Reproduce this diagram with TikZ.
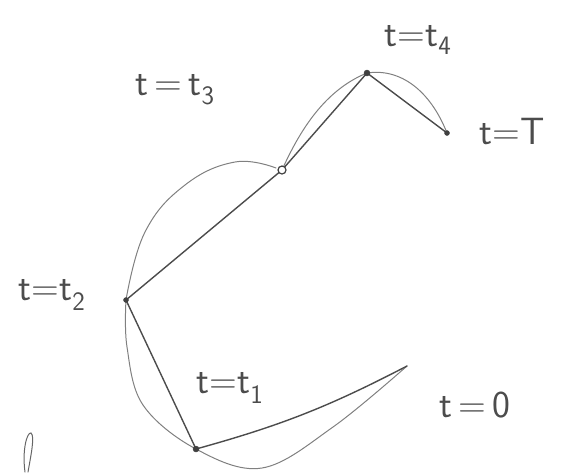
\documentclass[tikz,border=0pt]{standalone}
\begin{document}
\begin{tikzpicture}[x=1pt,y=-1pt,
  chord/.style={draw=black!70,line width=1.4pt,line cap=round},
  sweep/.style={draw=black!50,line width=1pt,line cap=round},
  lbl/.style={text=black!70,font=\sffamily\fontsize{38}{42}\selectfont,inner sep=0pt}]
\useasboundingbox (0,0) rectangle (577,472);
	% points of the path
	\coordinate (p0) at (407,366);
	\coordinate (p1) at (196,449);
	\coordinate (p2) at (126,300);
	\coordinate (p3) at (282,170);
	\coordinate (p4) at (367,73);
	\coordinate (pT) at (447,133);
	
	% smooth curve
	\draw[sweep] plot[smooth,tension=0.6] coordinates {(p0) (333,427) (262,468) (196,449) (143,405) (127,347) (p2)};
	\draw[sweep] plot[smooth,tension=0.7] coordinates {(p2) (145,232) (185,185) (235,162) (276,168)};
	\draw[sweep] (p3) .. controls (300,130) and (325,90) .. (p4);
	\draw[sweep] (p4) .. controls (400,68) and (430,90) .. (pT);
	
	% chords
	\draw[chord] (p0) to[bend left=6] (p1);
	\draw[chord] (p1) -- (p2) -- (p3) -- (p4) -- (pT);
	
	\draw[fill=black!75,draw=black!75] (p1) circle (3pt);
	\draw[fill=black!75,draw=black!75] (p2) circle (2.5pt);
	\draw[fill=white,draw=black!75,line width=1.2pt] (p3) circle (4pt);
	\draw[fill=black!75,draw=black!75] (p4) circle (3pt);
	\draw[fill=black!75,draw=black!75] (pT) circle (2.5pt);
	
	% stray stroke
	\draw[sweep,draw=black!60] (25,472) .. controls (22,450) and (27,432) .. (31,433) .. controls (35,436) and (31,455) .. (28,472);
	
	\node[lbl] (l0) at (475,405) {t\,=\,0};
	\node[lbl] (l1) at (230,388) {t=t\textsubscript{1}};
	\node[lbl] (l2) at (52,295) {t=t\textsubscript{2}};
	\node[lbl] (l3) at (175,90) {t\,=\,t\textsubscript{3}};
	\node[lbl] (l4) at (418,40) {t=t\textsubscript{4}};
	\node[lbl] (lT) at (512,132) {t=T};
\end{tikzpicture}
\end{document}
